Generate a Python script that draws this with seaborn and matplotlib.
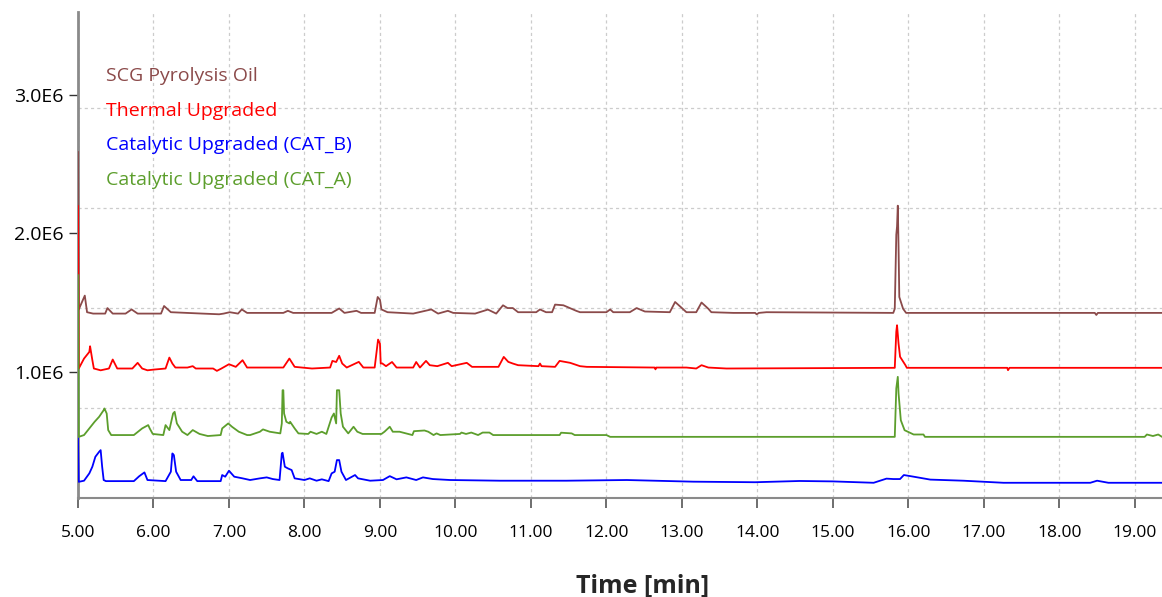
import pandas as pd
import numpy as np
import matplotlib
matplotlib.use("Agg")
import matplotlib.pyplot as plt
from matplotlib.ticker import FixedLocator, FuncFormatter, MultipleLocator
import seaborn as sns

sns.set_style("white")
plt.rcParams["font.family"] = ["Open Sans", "DejaVu Sans"]

OUTPUT = "out.png"
SERIES = ["SCG Pyrolysis Oil", "Thermal Upgraded",
          "Catalytic Upgraded (CAT_B)", "Catalytic Upgraded (CAT_A)"]
COLORS = {"SCG Pyrolysis Oil": "#8b4a4a", "Thermal Upgraded": "#ff0000",
          "Catalytic Upgraded (CAT_B)": "#0000ff", "Catalytic Upgraded (CAT_A)": "#5c9e2c"}

# retention time [min] / intensity [E6 counts]
scg_t = [5.00, 5.01, 5.09, 5.12, 5.20, 5.36, 5.39, 5.46, 5.63, 5.71, 5.79, 6.10, 6.14, 6.23,
         6.65, 6.87, 6.93, 7.01, 7.12, 7.17, 7.24, 7.72, 7.78, 7.85, 8.36, 8.46, 8.53, 8.69,
         8.75, 8.93, 8.97, 9.00, 9.02, 9.10, 9.44, 9.68, 9.77, 9.90, 9.97, 10.26, 10.43, 10.54,
         10.63, 10.69, 10.76, 10.83, 11.07, 11.12, 11.20, 11.28, 11.32, 11.43, 11.60, 11.65,
         12.00, 12.05, 12.09, 12.31, 12.40, 12.51, 12.84, 12.91, 13.00, 13.06, 13.19, 13.26,
         13.35, 13.39, 13.68, 13.97, 13.99, 14.02, 14.12, 15.80, 15.82, 15.84, 15.85, 15.86,
         15.87, 15.88, 15.93, 15.97, 18.47, 18.49, 18.51, 19.36]
scg_i = [2.59, 1.45, 1.55, 1.43, 1.42, 1.42, 1.46, 1.42, 1.42, 1.45, 1.42, 1.42, 1.475, 1.43,
         1.42, 1.415, 1.42, 1.43, 1.42, 1.45, 1.425, 1.425, 1.44, 1.425, 1.425, 1.457, 1.425, 1.44,
         1.425, 1.425, 1.54, 1.52, 1.45, 1.43, 1.42, 1.45, 1.42, 1.44, 1.425, 1.42, 1.449, 1.42,
         1.48, 1.46, 1.46, 1.43, 1.43, 1.45, 1.43, 1.43, 1.485, 1.48, 1.44, 1.43,
         1.43, 1.45, 1.43, 1.43, 1.46, 1.435, 1.43, 1.504, 1.46, 1.43, 1.43, 1.50,
         1.455, 1.43, 1.425, 1.425, 1.415, 1.425, 1.43, 1.425, 1.455, 1.99, 2.05, 2.20,
         1.90, 1.54, 1.455, 1.425, 1.425, 1.41, 1.425, 1.425]

thermal_t = [5.00, 5.01, 5.08, 5.15, 5.16, 5.19, 5.21, 5.30, 5.41, 5.46, 5.52, 5.72, 5.79, 5.85,
             5.92, 6.00, 6.16, 6.21, 6.25, 6.29, 6.45, 6.52, 6.56, 6.79, 6.84, 6.90, 7.00, 7.09,
             7.18, 7.24, 7.58, 7.72, 7.80, 7.87, 8.10, 8.34, 8.37, 8.42, 8.46, 8.50, 8.56, 8.72,
             8.78, 8.93, 8.975, 9.00, 9.01, 9.03, 9.08, 9.16, 9.22, 9.44, 9.48, 9.53, 9.61, 9.66,
             9.76, 9.90, 9.95, 10.15, 10.22, 10.57, 10.64, 10.70, 10.76, 10.83, 11.10, 11.12,
             11.14, 11.32, 11.38, 11.52, 11.65, 11.74, 12.64, 12.65, 12.66, 13.06, 13.19, 13.26,
             13.35, 13.59, 15.82, 15.84, 15.85, 15.87, 15.89, 15.96, 15.98, 17.31, 17.32, 17.34,
             19.36]
thermal_i = [2.20, 1.023, 1.095, 1.143, 1.184, 1.084, 1.023, 1.01, 1.023, 1.088, 1.023, 1.023,
             1.064, 1.023, 1.01, 1.015, 1.023, 1.102, 1.059, 1.03, 1.03, 1.04, 1.023, 1.023, 1.006,
             1.023, 1.054, 1.035, 1.083, 1.03, 1.03, 1.03, 1.095, 1.035, 1.023, 1.03, 1.078, 1.07,
             1.115, 1.059, 1.03, 1.071, 1.03, 1.03, 1.232, 1.203, 1.059, 1.06, 1.04, 1.07, 1.03,
             1.03, 1.07, 1.03, 1.078, 1.047, 1.04, 1.064, 1.04, 1.064, 1.035, 1.035, 1.107, 1.071,
             1.059, 1.047, 1.04, 1.059, 1.04, 1.035, 1.078, 1.064, 1.04, 1.035, 1.03, 1.017, 1.03,
             1.03, 1.023, 1.047, 1.03, 1.023, 1.028, 1.288, 1.336, 1.203, 1.108, 1.048, 1.028,
             1.028, 1.011, 1.028, 1.028]

cat_b_t = [5.00, 5.01, 5.08, 5.15, 5.19, 5.23, 5.28, 5.30, 5.32, 5.34, 5.37, 5.74, 5.81, 5.88,
           5.92, 6.16, 6.23, 6.25, 6.27, 6.30, 6.36, 6.50, 6.53, 6.58, 6.89, 6.91, 6.95, 7.00,
           7.07, 7.18, 7.28, 7.41, 7.50, 7.58, 7.67, 7.70, 7.71, 7.74, 7.78, 7.83, 7.87, 8.00,
           8.07, 8.16, 8.23, 8.32, 8.36, 8.40, 8.43, 8.46, 8.49, 8.55, 8.67, 8.71, 8.87, 9.04,
           9.13, 9.22, 9.35, 9.48, 9.57, 9.70, 9.93, 10.59, 11.47, 12.27, 13.15, 13.97, 14.56,
           15.00, 15.54, 15.71, 15.80, 15.89, 15.94, 16.07, 16.29, 16.73, 17.26, 18.41, 18.50,
           18.65, 19.36]
cat_b_i = [0.52, 0.204, 0.212, 0.265, 0.313, 0.385, 0.421, 0.433, 0.313, 0.217, 0.209, 0.209,
           0.244, 0.272, 0.217, 0.209, 0.277, 0.409, 0.397, 0.277, 0.217, 0.217, 0.244, 0.209,
           0.209, 0.253, 0.241, 0.284, 0.241, 0.229, 0.217, 0.229, 0.236, 0.224, 0.217, 0.409,
           0.414, 0.313, 0.301, 0.289, 0.229, 0.217, 0.229, 0.212, 0.222, 0.209, 0.265, 0.277,
           0.361, 0.361, 0.277, 0.217, 0.253, 0.229, 0.212, 0.217, 0.245, 0.222, 0.236, 0.217,
           0.236, 0.224, 0.217, 0.212, 0.212, 0.217, 0.205, 0.201, 0.21, 0.207, 0.197, 0.227,
           0.224, 0.224, 0.253, 0.241, 0.220, 0.212, 0.197, 0.197, 0.212, 0.197, 0.197]

cat_a_t = [5.00, 5.01, 5.08, 5.15, 5.22, 5.28, 5.34, 5.35, 5.38, 5.40, 5.44, 5.74, 5.85, 5.93,
           5.95, 5.99, 6.13, 6.16, 6.21, 6.26, 6.28, 6.31, 6.38, 6.45, 6.52, 6.61, 6.72, 6.89,
           6.91, 6.99, 7.04, 7.13, 7.24, 7.28, 7.41, 7.45, 7.54, 7.68, 7.70, 7.71, 7.72, 7.73,
           7.76, 7.80, 7.81, 7.87, 7.92, 8.05, 8.08, 8.16, 8.23, 8.29, 8.36, 8.39, 8.42, 8.43,
           8.46, 8.48, 8.51, 8.58, 8.65, 8.70, 8.77, 9.02, 9.06, 9.13, 9.17, 9.26, 9.43, 9.45,
           9.59, 9.64, 9.71, 9.75, 9.80, 10.06, 10.08, 10.14, 10.21, 10.30, 10.36, 10.45, 10.50,
           11.38, 11.40, 11.54, 11.58, 12.00, 12.05, 15.82, 15.84, 15.86, 15.87, 15.90, 15.95,
           16.07, 16.20, 16.22, 19.13, 19.16, 19.24, 19.31, 19.36]
cat_a_i = [1.70, 0.529, 0.542, 0.590, 0.638, 0.674, 0.722, 0.734, 0.698, 0.578, 0.542, 0.542,
           0.590, 0.614, 0.59, 0.55, 0.542, 0.614, 0.578, 0.698, 0.710, 0.626, 0.566, 0.542,
           0.578, 0.550, 0.535, 0.542, 0.590, 0.626, 0.602, 0.566, 0.542, 0.542, 0.566, 0.583,
           0.566, 0.554, 0.626, 0.866, 0.866, 0.698, 0.638, 0.626, 0.638, 0.590, 0.554, 0.550,
           0.566, 0.550, 0.566, 0.550, 0.669, 0.698, 0.626, 0.866, 0.866, 0.698, 0.602, 0.554,
           0.602, 0.566, 0.550, 0.550, 0.566, 0.602, 0.566, 0.566, 0.542, 0.570, 0.575, 0.566,
           0.542, 0.554, 0.542, 0.550, 0.56, 0.550, 0.56, 0.542, 0.56, 0.56, 0.542, 0.542, 0.559,
           0.554, 0.542, 0.542, 0.529, 0.529, 0.879, 0.963, 0.843, 0.649, 0.577, 0.546, 0.546,
           0.529, 0.529, 0.546, 0.535, 0.546, 0.529]

Y_TICKS = [1.0e6, 2.0e6, 3.0e6]
Y_GRID = [0.736e6, 1.458e6, 2.18e6, 2.903e6]


def main():
    frames = []
    for name, t, i in [(SERIES[0], scg_t, scg_i), (SERIES[1], thermal_t, thermal_i),
                       (SERIES[2], cat_b_t, cat_b_i), (SERIES[3], cat_a_t, cat_a_i)]:
        frames.append(pd.DataFrame({"time": t, "intensity": np.array(i) * 1e6, "sample": name}))
    df = pd.concat(frames, ignore_index=True)

    fig = plt.figure(figsize=(11.62, 5.97), dpi=100)
    ax = fig.add_axes([78 / 1162, 1 - 498 / 597, 1 - 78 / 1162, (498 - 12) / 597])

    sns.lineplot(data=df, x="time", y="intensity", hue="sample", hue_order=SERIES,
                 palette=COLORS, estimator=None, sort=False, linewidth=1.3,
                 ax=ax, zorder=3)

    ax.set_xlim(5.0, 19.36)
    ax.set_ylim(0.087e6, 3.6e6)
    ax.xaxis.set_major_locator(MultipleLocator(1.0))
    ax.xaxis.set_major_formatter(FuncFormatter(lambda v, p: f"{v:.2f}"))
    ax.yaxis.set_major_locator(FixedLocator(Y_TICKS))
    ax.yaxis.set_major_formatter(FuncFormatter(lambda v, p: f"{v / 1e6:.1f}E6"))
    ax.yaxis.set_minor_locator(FixedLocator(Y_GRID))

    ax.grid(False)
    ax.grid(True, axis="x", which="major", color="#cccccc", linestyle=(0, (2.5, 2.5)), linewidth=0.9)
    ax.grid(True, axis="y", which="minor", color="#cccccc", linestyle=(0, (2.5, 2.5)), linewidth=0.9)
    ax.set_axisbelow(True)

    for side in ["top", "right"]:
        ax.spines[side].set_visible(False)
    ax.spines["left"].set_color("#8a8a8a")
    ax.spines["left"].set_linewidth(2.0)
    ax.spines["bottom"].set_color("#8a8a8a")
    ax.spines["bottom"].set_linewidth(1.5)

    ax.tick_params(axis="x", which="major", bottom=True, direction="out", length=7.5,
                   width=1.2, color="#555555", pad=12, labelsize=12.5, labelcolor="black")
    ax.tick_params(axis="y", which="major", left=True, direction="out", length=6.5,
                   width=1.0, color="#333333", pad=4, labelsize=14, labelcolor="black")
    ax.tick_params(axis="y", which="minor", left=False, length=0)

    ax.set_ylabel("")
    ax.set_xlabel("Time [min]", fontsize=18, fontweight="bold")
    ax.xaxis.set_label_coords(0.521, -0.156)

    leg = ax.legend(loc="upper left", bbox_to_anchor=(0.010, 0.923), frameon=False,
                    handlelength=0, handletextpad=0, labelspacing=0.86, fontsize=14,
                    labelcolor="linecolor")
    for h in leg.legend_handles:
        h.set_visible(False)

    fig.savefig(OUTPUT, dpi=100, facecolor="white")
    plt.close(fig)


if __name__ == "__main__":
    main()
